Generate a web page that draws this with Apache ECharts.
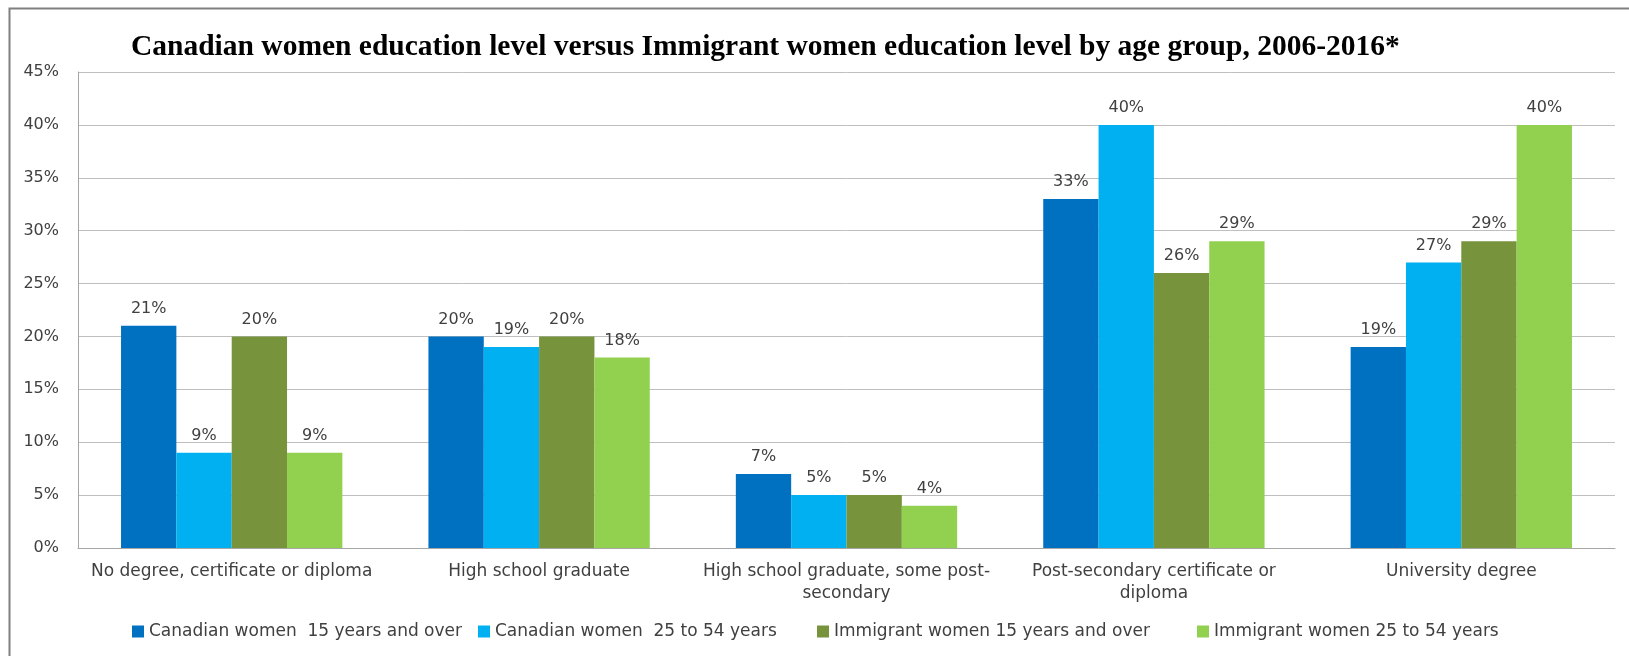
<!DOCTYPE html>
<html>
<head>
<meta charset="utf-8">
<title>Canadian women education level versus Immigrant women education level by age group, 2006-2016*</title>
<script src="https://cdn.jsdelivr.net/npm/echarts@6/dist/echarts.min.js"></script>
<style>
  html, body { margin: 0; padding: 0; background: #ffffff; }
  #chart { width: 1629px; height: 656px; }
</style>
</head>
<body>
<div id="chart"></div>
<script>
// Education level categories (x axis)
const categories = [
  'No degree, certificate or diploma',
  'High school graduate',
  'High school graduate, some post-\nsecondary',
  'Post-secondary certificate or\ndiploma',
  'University degree'
];

// Series names
const seriesNames = [
  'Canadian women  15 years and over',
  'Canadian women  25 to 54 years',
  'Immigrant women 15 years and over',
  'Immigrant women 25 to 54 years'
];

// Share of women by education level, in percent
const canadian15Plus   = [21, 20, 7, 33, 19];
const canadian25to54   = [9, 19, 5, 40, 27];
const immigrant15Plus  = [20, 20, 5, 26, 29];
const immigrant25to54  = [9, 18, 4, 29, 40];

// Y axis ticks (percent)
const yTicks = [0, 5, 10, 15, 20, 25, 30, 35, 40, 45];

const colors = ['#0070C0', '#00B0F0', '#77933C', '#92D050'];
const values = [canadian15Plus, canadian25to54, immigrant15Plus, immigrant25to54];

const textFont = 'DejaVu Sans';
const textColor = '#404040';

const chart = echarts.init(document.getElementById('chart'), null, { renderer: 'canvas' });

// Left edge of each legend entry
const legendLefts = [132, 478, 817, 1197];

const option = {
  backgroundColor: '#ffffff',
  animation: false,
  title: {
    text: 'Canadian women education level versus Immigrant women education level by age group, 2006-2016*',
    left: 131,
    top: 32,
    padding: 0,
    textStyle: {
      fontFamily: 'Liberation Serif',
      fontWeight: 'bold',
      fontSize: 29.5,
      color: '#000000'
    }
  },
  graphic: [{
    type: 'rect',
    left: 7,
    top: 6,
    shape: { width: 1700, height: 700 },
    style: { fill: 'none', stroke: '#808080', lineWidth: 2 },
    silent: true
  }],
  legend: seriesNames.map((name, i) => ({
    data: [name],
    left: legendLefts[i],
    top: 623,
    padding: 0,
    itemWidth: 12,
    itemHeight: 12,
    itemGap: 0,
    icon: 'rect',
    textStyle: { fontFamily: textFont, fontSize: 17, color: textColor },
    selectedMode: false
  })),
  grid: {
    left: 78,
    right: 14,
    top: 72,
    bottom: 108,
    containLabel: false
  },
  xAxis: {
    type: 'category',
    data: categories,
    axisLine: { show: true, lineStyle: { color: '#A6A6A6', width: 1 } },
    axisTick: { show: false },
    axisLabel: {
      interval: 0,
      margin: 13,
      fontFamily: textFont,
      fontSize: 17,
      lineHeight: 22,
      color: textColor
    },
    splitLine: { show: false }
  },
  yAxis: {
    type: 'value',
    min: yTicks[0],
    max: yTicks[yTicks.length - 1],
    interval: yTicks[1] - yTicks[0],
    axisLine: { show: true, lineStyle: { color: '#A6A6A6', width: 1 } },
    axisTick: { show: false },
    axisLabel: {
      margin: 19,
      fontFamily: textFont,
      fontSize: 16,
      color: textColor,
      formatter: v => v + '%'
    },
    splitLine: { show: true, lineStyle: { color: '#BFBFBF', width: 1 } }
  },
  series: seriesNames.map((name, i) => ({
    name: name,
    type: 'bar',
    data: values[i],
    barGap: '0%',
    barCategoryGap: '28%',
    itemStyle: { color: colors[i] },
    label: {
      show: true,
      position: 'top',
      distance: 9,
      fontFamily: textFont,
      fontSize: 16,
      color: textColor,
      formatter: p => p.value + '%'
    }
  }))
};

chart.setOption(option);
</script>
</body>
</html>
